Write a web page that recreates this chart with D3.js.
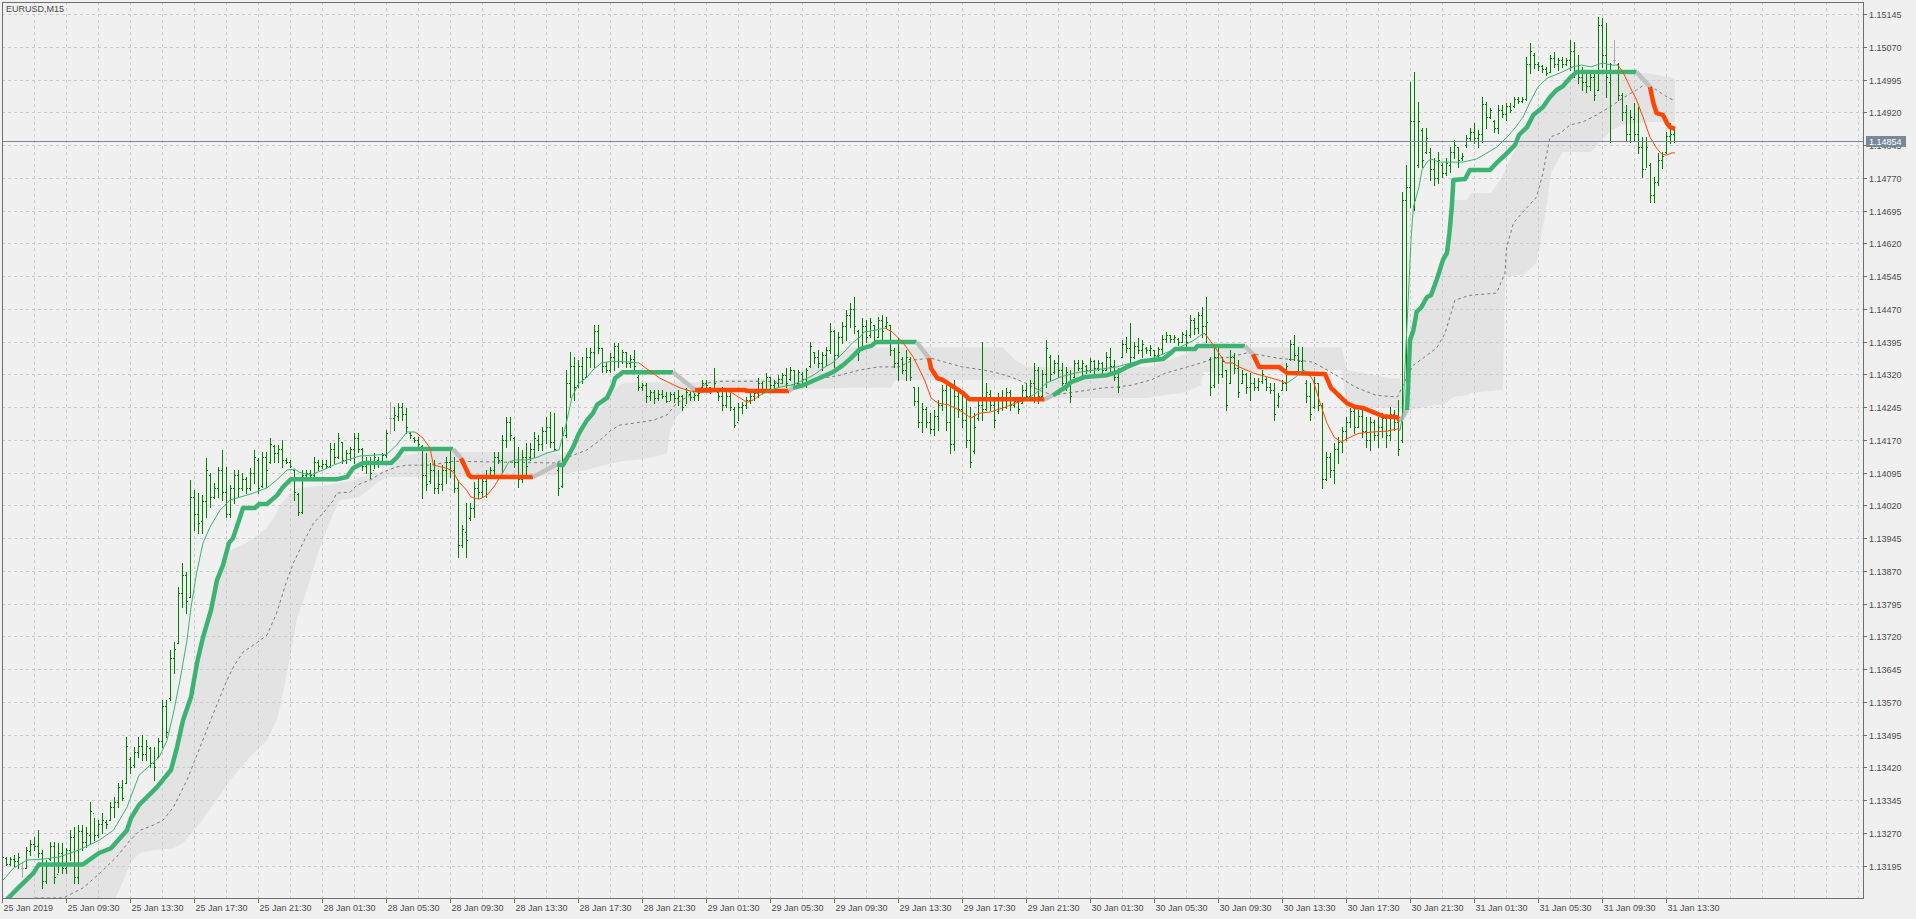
<!DOCTYPE html>
<html>
<head>
<meta charset="utf-8">
<script src="https://cdn.jsdelivr.net/npm/d3@7"></script>
<style>
body { margin: 0; background: #f0f0f0; overflow: hidden; }
svg { display: block; }
text { font-family: "Liberation Sans", Arial, sans-serif; font-size: 9px; fill: #4a4a4a; }
</style>
</head>
<body>
<svg id="chart" width="1916" height="919"></svg>
<script>
// EURUSD M15 bars, prices stored as points above 1.13000
var symbol = "EURUSD,M15";
var lastPrice = 1.14854;

var priceTicks = ["1.15145","1.15070","1.14995","1.14920","1.14845","1.14770","1.14695","1.14620","1.14545",
  "1.14470","1.14395","1.14320","1.14245","1.14170","1.14095","1.14020","1.13945","1.13870","1.13795",
  "1.13720","1.13645","1.13570","1.13495","1.13420","1.13345","1.13270","1.13195"];

var timeLabels = ["25 Jan 2019","25 Jan 09:30","25 Jan 13:30","25 Jan 17:30","25 Jan 21:30","28 Jan 01:30",
  "28 Jan 05:30","28 Jan 09:30","28 Jan 13:30","28 Jan 17:30","28 Jan 21:30","29 Jan 01:30","29 Jan 05:30",
  "29 Jan 09:30","29 Jan 13:30","29 Jan 17:30","29 Jan 21:30","30 Jan 01:30","30 Jan 05:30","30 Jan 09:30",
  "30 Jan 13:30","30 Jan 17:30","30 Jan 21:30","31 Jan 01:30","31 Jan 05:30","31 Jan 09:30","31 Jan 13:30"];

var hi = [256,215,215,219,224,203,237,253,260,276, 231,208,249,249,247,247,235,276,283,288,
  288,283,340,304,299,315,299,340,352,384, 391,489,443,466,489,494,482,466,466,487,
  574,574,689,707,833,888,867,1078,1055,1048, 1043,1128,1094,1071,1108,1147,1108,1066,1101,1101,
  1094,1085,1105,1147,1128,1142,1142,1174,1158,1158, 1169,1128,1124,1101,1048,1101,1101,1101,1130,1124,
  1124,1124,1162,1162,1185,1165,1147,1153,1185,1185, 1151,1130,1130,1140,1130,1140,1192,1256,1245,1254,
  1254,1243,1188,1176,1176,1158,1140,1117,1124,1101, 1112,1130,1153,1130,1078,975,1025,1025,1073,1082,
  1089,1101,1108,1142,1142,1181,1222,1222,1176,1153, 1147,1162,1162,1188,1181,1199,1222,1234,1231,1112,
  1199,1330,1371,1359,1353,1359,1380,1380,1433,1433, 1380,1348,1369,1392,1392,1376,1371,1364,1376,1318,
  1300,1300,1284,1284,1284,1284,1279,1279,1279,1284, 1272,1289,1279,1277,1279,1307,1307,1291,1334,1284,
  1291,1284,1277,1245,1254,1256,1268,1277,1284,1311, 1302,1323,1314,1307,1318,1323,1334,1337,1330,1330,
  1325,1334,1394,1371,1376,1371,1382,1437,1421,1417, 1440,1467,1483,1497,1421,1449,1444,1449,1433,1451,
  1456,1451,1433,1380,1403,1359,1376,1359,1291,1291, 1254,1245,1231,1238,1261,1295,1307,1300,1307,1289,
  1277,1268,1245,1231,1268,1394,1300,1284,1268,1277, 1284,1289,1284,1268,1268,1295,1300,1307,1346,1337,
  1330,1398,1364,1353,1364,1346,1337,1330,1353,1353, 1353,1341,1357,1353,1353,1348,1371,1380,1353,1334,
  1398,1405,1437,1394,1403,1398,1382,1387,1376,1382, 1410,1417,1410,1410,1403,1417,1421,1456,1449,1462,
  1474,1497,1359,1382,1380,1359,1330,1376,1369,1353, 1330,1323,1323,1311,1311,1330,1314,1300,1300,1277,
  1307,1346,1398,1410,1382,1382,1307,1300,1314,1300, 1254,1142,1140,1162,1176,1199,1222,1243,1245,1238,
  1245,1222,1222,1215,1222,1231,1222,1245,1238,1261, 1737,1799,1989,2012,1943,1884,1884,1838,1815,1829,
  1804,1815,1840,1856,1840,1827,1868,1884,1895,1879, 1955,1943,1930,1902,1937,1937,1941,1941,1955,1955,
  1955,2046,2079,2056,2035,2028,2024,2051,2058,2044, 2046,2044,2085,2081,2051,2024,2012,2017,2010,2138,
  2136,2124,2033,2085,2033,1964,1937,1925,1941,1932, 1863,1863,1804,1772,1827,1829,1875,1895,1884];

var lo = [208,196,196,194,189,169,189,219,231,215, 144,155,208,155,180,178,178,208,155,155,
  231,237,247,253,260,269,281,299,306,329, 345,384,407,421,443,437,437,421,391,443,
  466,489,574,636,705,787,773,810,963,956, 956,993,1016,1037,1039,1032,993,993,1025,1039,
  1055,1048,1055,1071,1048,1062,1062,1117,1119,1119, 1108,1117,1108,1032,998,1002,1085,1085,1085,1101,
  1105,1105,1108,1117,1128,1117,1117,1124,1117,1142, 1101,1094,1082,1105,1108,1117,1130,1185,1192,1215,
  1215,1185,1174,1165,1153,1037,1055,1071,1048,1048, 1055,1071,1085,1050,901,924,901,986,993,1037,
  1039,1039,1085,1085,1117,1096,1153,1169,1108,1062, 1073,1085,1124,1130,1147,1147,1162,1153,1147,1043,
  1062,1176,1268,1261,1291,1300,1314,1337,1337,1369, 1325,1325,1325,1330,1337,1346,1337,1337,1330,1284,
  1284,1256,1261,1254,1261,1266,1256,1261,1256,1250, 1238,1254,1261,1261,1261,1289,1284,1277,1284,1261,
  1238,1245,1238,1199,1215,1231,1243,1254,1261,1268, 1277,1284,1284,1284,1291,1300,1291,1307,1291,1291,
  1300,1291,1337,1346,1337,1330,1341,1369,1337,1359, 1392,1398,1428,1414,1353,1376,1394,1405,1387,1405,
  1394,1426,1364,1337,1307,1323,1307,1307,1250,1199, 1188,1199,1185,1181,1192,1238,1192,1140,1147,1222,
  1199,1153,1108,1140,1215,1215,1238,1238,1199,1231, 1238,1243,1238,1245,1231,1254,1261,1268,1256,1254,
  1268,1291,1307,1323,1314,1295,1284,1256,1314,1330, 1318,1323,1325,1323,1330,1323,1330,1323,1307,1279,
  1359,1371,1337,1357,1369,1359,1369,1364,1359,1357, 1369,1394,1394,1394,1387,1394,1382,1405,1412,1414,
  1405,1394,1272,1291,1300,1314,1238,1300,1323,1268, 1300,1277,1261,1284,1284,1300,1284,1277,1215,1245,
  1284,1284,1353,1353,1330,1323,1256,1215,1243,1238, 1059,1078,1085,1071,1117,1142,1169,1199,1185,1199,
  1176,1153,1147,1169,1153,1176,1153,1169,1192,1135, 1165,1268,1703,1696,1795,1795,1827,1765,1753,1758,
  1772,1776,1783,1815,1795,1811,1840,1856,1850,1840, 1852,1884,1907,1875,1872,1909,1902,1921,1932,1941,
  1943,1948,2010,2021,2017,2012,2005,2012,2024,2017, 2024,2028,2017,2000,1987,1971,1966,1971,1948,1971,
  2024,1955,1852,2033,1948,1902,1856,1852,1856,1827, 1772,1795,1714,1714,1753,1792,1827,1850,1852];

var op = [252,212,200,210,205,190,190,228,245,240, 225,160,210,240,175,225,190,230,260,170,
  275,250,265,315,265,290,295,300,330,340, 375,385,440,425,455,470,450,465,430,445,
  480,560,580,670,705,820,860,810,1040,1000, 985,1030,1090,1040,1060,1100,1050,1000,1060,1090,
  1060,1080,1060,1095,1125,1065,1130,1120,1155,1140, 1150,1125,1120,1100,1045,1005,1090,1095,1090,1120,
  1110,1115,1110,1150,1130,1165,1125,1140,1150,1175, 1150,1110,1120,1100,1125,1115,1135,1220,1220,1225,
  1245,1230,1185,1175,1170,1155,1090,1075,1100,1060, 1070,1100,1120,1100,1060,930,960,990,1015,1060,
  1050,1075,1090,1100,1130,1125,1170,1210,1175,1120, 1080,1130,1130,1150,1170,1160,1190,1200,1165,1100,
  1065,1180,1300,1340,1295,1340,1315,1360,1370,1420, 1380,1340,1330,1360,1385,1350,1370,1345,1355,1315,
  1290,1295,1270,1280,1265,1275,1270,1260,1275,1265, 1270,1250,1275,1268,1272,1290,1300,1290,1285,1280,
  1270,1250,1270,1240,1210,1245,1250,1262,1270,1278, 1300,1285,1315,1295,1300,1310,1318,1310,1330,1300,
  1320,1310,1340,1370,1360,1345,1365,1375,1420,1365, 1405,1430,1455,1470,1420,1380,1430,1410,1433,1405,
  1445,1430,1433,1375,1345,1355,1330,1355,1290,1260, 1210,1240,1210,1195,1225,1250,1285,1210,1160,1270,
  1240,1215,1170,1145,1220,1250,1240,1275,1250,1235, 1265,1245,1280,1250,1260,1255,1285,1270,1300,1330,
  1270,1320,1360,1325,1345,1330,1300,1320,1315,1345, 1335,1340,1330,1350,1335,1345,1330,1360,1340,1315,
  1360,1390,1380,1360,1385,1375,1380,1375,1375,1365, 1378,1400,1410,1400,1400,1395,1410,1410,1445,1425,
  1455,1430,1355,1295,1360,1320,1330,1300,1360,1335, 1300,1320,1290,1300,1290,1305,1310,1290,1285,1250,
  1285,1300,1355,1390,1365,1350,1300,1270,1245,1300, 1250,1080,1130,1100,1150,1165,1190,1210,1235,1200,
  1225,1190,1170,1210,1180,1200,1220,1180,1230,1210, 1170,1720,1750,1900,1800,1880,1830,1830,1790,1770,
  1800,1780,1800,1830,1840,1815,1845,1860,1875,1860, 1870,1940,1910,1900,1885,1925,1915,1935,1935,1950,
  1945,1950,2030,2050,2030,2025,2020,2012,2045,2030, 2040,2030,2040,2060,2010,2000,1990,1980,2000,1970,
  2120,2050,1990,2040,2030,1960,1920,1870,1905,1870, 1840,1790,1800,1730,1760,1810,1830,1865,1870];

var cl = [214,200,210,205,215,190,230,245,240,225, 160,195,240,170,225,190,230,260,170,275,
  250,270,320,265,290,300,290,330,340,375, 350,470,420,455,470,450,470,430,420,480,
  560,500,670,690,820,860,800,1040,1000,980, 1030,1100,1040,1060,1100,1050,1000,1060,1090,1060,
  1080,1060,1095,1130,1060,1130,1100,1160,1140,1150, 1125,1120,1110,1050,1005,1090,1095,1090,1120,1110,
  1115,1110,1150,1130,1175,1125,1140,1150,1175,1150, 1110,1120,1095,1130,1115,1135,1185,1220,1228,1245,
  1230,1200,1180,1170,1160,1090,1070,1100,1060,1070, 1100,1120,1100,1060,930,965,940,1015,1060,1050,
  1075,1090,1100,1130,1125,1170,1210,1180,1120,1080, 1130,1110,1150,1175,1160,1190,1200,1165,1150,1060,
  1180,1300,1340,1290,1340,1310,1360,1370,1420,1380, 1340,1330,1360,1385,1350,1370,1345,1355,1340,1290,
  1295,1270,1280,1265,1275,1270,1260,1275,1265,1270, 1245,1280,1268,1272,1278,1300,1295,1285,1300,1270,
  1250,1270,1245,1205,1245,1250,1262,1270,1278,1300, 1285,1315,1295,1300,1310,1318,1300,1330,1300,1325,
  1310,1330,1385,1360,1345,1365,1375,1420,1365,1405, 1430,1455,1470,1430,1370,1430,1405,1440,1395,1445,
  1420,1440,1375,1345,1370,1330,1360,1315,1260,1210, 1240,1210,1195,1225,1250,1285,1210,1160,1270,1240,
  1215,1170,1120,1200,1250,1240,1280,1250,1215,1265, 1245,1280,1250,1260,1240,1285,1270,1300,1330,1270,
  1320,1380,1320,1345,1330,1300,1325,1270,1345,1335, 1345,1330,1350,1335,1345,1330,1360,1340,1315,1290,
  1390,1380,1360,1385,1375,1390,1375,1380,1365,1378, 1400,1410,1400,1405,1395,1412,1395,1445,1425,1455,
  1430,1440,1290,1360,1320,1350,1250,1360,1335,1280, 1320,1290,1300,1290,1305,1320,1290,1285,1230,1270,
  1300,1340,1390,1365,1350,1330,1270,1230,1300,1250, 1080,1130,1100,1150,1165,1190,1210,1235,1200,1225,
  1190,1170,1210,1180,1200,1220,1180,1230,1210,1150, 1720,1750,1900,1720,1900,1810,1860,1790,1770,1810,
  1780,1805,1830,1845,1810,1820,1860,1875,1860,1870, 1940,1910,1925,1885,1925,1915,1935,1925,1950,1945,
  1950,2030,2060,2030,2025,2020,2010,2045,2030,2040, 2030,2040,2060,2010,2000,1990,1980,2000,1960,2120,
  2050,2000,2030,2040,1960,1920,1870,1910,1870,1840, 1790,1840,1730,1760,1810,1820,1865,1870,1854];

// trailing step line: bar position, level (points)
var stopBar = [0,1.3,4,7.6,9,20,24,27,31,32,34,37,38.5,42,43.5,45,47,48.5,50,52,53.5,55,56.5,57.5,59,60,63,64,66,68.5,70,72,
  83.5,86,87.5,90,97,98.5,100,112.5,114.5,116.5,117,132.5,138.5,140,142.5,144,146,147.5,148.5,151,152.5,153,155,167.5,
  173,185.5,186,196.5,197.5,200,204,207.5,210,212,214,215,217,218.3,228.4,231.5,232,233.6,235,238,240,241.6,260.4,
  262.5,265.7,267,270.5,276,278.5,281,284.6,290,292,293,298,298.6,310.5,312.5,314,319,321,330.5,332,334.6,336,338,340,
  342.4,345,348.5,349.3,351,351.3,351.75,352.6,353.4,354.6,356,357,358.4,360,361,361.6,362.2,362.6,365.5,366.75,371.75,
  373.4,375.5,378,379,381,382.6,385,386.75,388.4,390,392,393.4,408.4,411.75,412.6,413.4,415,416,416.75,418];
var stopVal = [109,121,146,178,198,198,224,235,276,304,334,361,375,414,466,528,581,659,718,780,849,883,934,945,986,1014,1014,1023,1023,1043,1062,1080,
  1080,1085,1105,1117,1117,1130,1149,1149,1128,1089,1085,1085,1114,1112,1153,1185,1215,1231,1250,1266,1295,1311,1325,1325,
  1284,1284,1282,1282,1289,1295,1311,1325,1341,1357,1376,1380,1385,1394,1394,1357,1334,1311,1307,1289,1277,1263,1263,
  1272,1291,1302,1314,1318,1325,1337,1350,1355,1369,1378,1378,1385,1385,1366,1337,1337,1323,1321,1289,1266,1254,1245,1243,
  1234,1224,1222,1213,1238,1300,1398,1421,1463,1474,1497,1501,1536,1582,1598,1643,1703,1765,1767,1788,1788,
  1804,1822,1845,1868,1886,1914,1932,1955,1971,1980,2001,2012,2012,1978,1941,1918,1914,1895,1886,1882];
// colour runs along the points: u = rising (green), d = falling (red), n = switching (grey)
var stopRuns = [["u",40],["n",1],["d",3],["n",1],["u",11],["n",1],["d",3],["n",1],["u",10],["n",1],["d",7],
  ["n",1],["u",13],["n",1],["d",13],["n",1],["u",29],["n",1],["d",6]];

// smoothed average: bar position, level
var maBar = [0,2.6,6,10,14,19,24,27.6,31,34,37.6,39,41,42.6,44.25,46,47,48.4,50,51.75,54.25,56.75,59.25,62.6,66,68.4,71,73,74,76.75,80,82.6,86,
  89.25,92.6,96,98.4,101,103,105,106.75,107.6,111,112.6,114,115.9,117,119,121,123,125,126.4,128,131,133.5,136,139,140.6,142.25,144,145.75,
  147.5,149.6,152.5,156.75,159,160.75,164.25,166.75,169.25,171.75,174.25,177,179.25,182,184.25,186,187.5,189.25,192,194.25,197,200.25,
  202.6,205,207.6,210,212.6,214.25,215.25,218,220.5,222.3,224.9,227.6,230.4,232,233.75,236.4,238,239.8,242,244,246.9,250.6,253,255.6,
  258.25,260.9,264.4,268,273,278.4,282,286.3,290.7,294.2,297.7,299.5,300.4,303,305.6,307.4,309,312.6,316.1,318.8,321,323.2,325,326,327.5,
  329.3,331,332.8,334.6,336.3,339,342.5,346,348.6,349.25,350,350.5,351.3,352,352.6,354,354.75,356,357,359,361.75,365,368.4,371,373.4,376,
  378,380,382,383.75,386,389.75,392.5,394.6,397,400,402,403.75,405.1,406.75,408.4,410,411.75,413.4,414.7,415.9,417.2,418];
var maVal = [162,189,208,210,215,231,253,276,329,402,432,443,482,544,620,711,787,865,934,970,1009,1032,1039,1048,1060,1078,1101,1103,1096,1089,1101,1112,1124,
  1133,1135,1137,1158,1188,1188,1174,1151,1112,1105,1096,1073,1055,1039,1034,1043,1066,1096,1119,1124,1124,1130,1140,1147,1199,1268,1300,1311,
  1330,1346,1350,1348,1346,1334,1311,1300,1289,1282,1279,1279,1284,1279,1266,1256,1261,1272,1284,1291,1295,1307,
  1318,1334,1348,1369,1394,1405,1417,1421,1426,1417,1394,1359,1307,1266,1254,1250,1243,1234,1220,1231,1234,1245,1254,1261,
  1277,1300,1314,1323,1330,1337,1346,1353,1369,1382,1398,1410,1414,1382,1346,1346,1337,1323,1314,1307,1300,1314,1330,1325,1307,
  1254,1208,1176,1165,1174,1185,1188,1190,1195,1192,1231,1337,1490,1627,1703,1749,1788,1806,1813,1806,1806,1806,1813,1827,1840,1863,
  1884,1909,1948,1978,1998,2012,2024,2028,2024,2033,2028,2028,2010,1978,1948,1909,1863,1838,1824,1822,1827,1827];
var maRuns = [["u",39],["d",12],["u",15],["d",13],["u",13],["d",15],["u",13],["d",8],["u",3],["d",11],["u",28],["d",10]];

// slow average (dashed)
var slowBar = [8,15,20,24.25,28.4,31.75,34.25,37.6,40,42.6,46,49.25,52.6,56,57.6,60,63.4,66,68.4,71,72.6,75,77.6,80,82.6,83.4,86.75,88.4,91.75,95,98.4,101,106.75,
  112.6,138,142.6,146,149.25,152,154.25,157.6,162.6,166,168.4,171,173.5,176,179.25,192.6,196,201,205,209.25,214.25,218.8,224,227.6,232,235.4,
  239.8,245,248.6,252,255.6,258.9,262.6,266,271.4,275,278.4,282,287,290.7,295,299.5,303,306.5,311,314.4,318.8,323.2,327.5,331,334.6,338,343.3,
  348.6,351,352.6,355,358.4,360.5,363,366.75,373.4,375.5,375.9,377.6,380,383.4,385,386.75,389.25,391.75,395,398.4,401.75,405,408.4,410.9,413.4,416,417.6];
var slowVal = [121,121,144,178,215,253,276,288,299,329,391,466,544,620,650,684,705,723,773,849,888,934,979,1002,1032,1048,1050,1066,1078,1096,1108,1112,1112,
  1121,1117,1135,1147,1169,1192,1204,1208,1215,1227,1254,1268,1284,1300,1304,1304,1295,1300,1311,1318,1330,1337,1337,1353,1357,1348,
  1337,1330,1323,1314,1300,1284,1272,1277,1284,1289,1291,1295,1307,1323,1334,1346,1357,1359,1369,1364,1357,1353,1348,1330,1311,1291,1272,
  1268,1314,1341,1357,1380,1414,1490,1501,1506,1552,1611,1666,1692,1726,1781,1863,1872,1891,1898,1914,1932,1953,1971,1987,1971,1955,1948];

// shaded envelope: bar position, upper edge, lower edge
var bandBar = [0,2,4,8,10,20,24,28,30.5,31.75,34.25,38,42.6,45,49.25,53.4,56.75,60,61.75,66,68.4,69.25,71,73.4,76.75,79.25,82.6,84.25,88,89.25,
  93.4,96,98,100,106.75,132.6,137.6,140,142,146,150,153.4,155,158,162.6,166,166.75,168.4,171,173.5,176,196,211.75,222,223,250,253,256,
  258.9,286.3,290,295,299.5,300,334.6,336,346.75,349.25,350,351,352,354,358,360,362.6,366,367,372,375,375.5,378,380,383.4,386,387,390,393,
  397,402,405,410.9,418];
var bandTop = [118,127,141,180,194,194,217,240,267,295,327,368,437,521,677,837,918,929,940,968,1002,1021,1039,1060,1062,1064,1069,1071,1078,1085,
  1094,1101,1117,1135,1142,1142,1140,1135,1147,1204,1250,1289,1300,1302,1302,1302,1302,1302,1302,1302,1307,1311,1382,1382,1382,1382,1353,1337,
  1337,1337,1348,1364,1382,1382,1382,1330,1311,1311,1261,1284,1410,1472,1524,1577,1719,1719,1735,1735,1776,1788,1834,1868,1914,1955,1960,1982,2005,
  2005,2005,2005,2010,1998];
var bandBot = [118,118,118,118,118,118,118,118,169,201,224,231,235,247,293,345,391,425,444,482,528,558,636,757,849,924,1002,1032,1037,1039,
  1071,1085,1085,1085,1085,1085,1089,1094,1096,1101,1112,1119,1121,1124,1130,1140,1192,1222,1245,1268,1284,1284,1289,1289,1307,1307,1307,1307,
  1266,1266,1272,1277,1295,1325,1330,1243,1243,1243,1238,1238,1238,1243,1250,1250,1268,1272,1277,1282,1284,1543,1547,1547,1575,1712,1781,1829,1829,
  1829,1879,1891,1898,1898];

function expandRuns(runs) {
  var s = [];
  runs.forEach(function(r) { for (var k = 0; k < r[1]; k++) s.push(r[0]); });
  return s;
}
var stopState = expandRuns(stopRuns);
var maState = expandRuns(maRuns);
if (stopState.length !== stopBar.length) console.log("stop states", stopState.length, stopBar.length);
if (maState.length !== maBar.length) console.log("ma states", maState.length, maBar.length);

var W = 1916, H = 919;
var plotL = 2, plotR = 1863, plotT = 2, plotB = 898;
var price = function(v) { return 1.13 + v / 100000; };

var x = d3.scaleLinear().domain([0, 418]).range([3, 1675]);
var y = d3.scaleLinear().domain([1.13195, 1.15145]).range([865.7, 14]);

var svg = d3.select("#chart");
svg.append("rect").attr("width", W).attr("height", H).attr("fill", "#f0f0f0");

svg.append("clipPath").attr("id", "plotclip")
  .append("rect").attr("x", plotL).attr("y", plotT).attr("width", plotR - plotL).attr("height", plotB - plotT);

var plot = svg.append("g").attr("clip-path", "url(#plotclip)");

// envelope
var band = bandBar.map(function(b, k) { return [b, bandTop[k], bandBot[k]]; });
plot.append("path")
  .attr("d", d3.area().x(function(d) { return x(d[0]); })
    .y0(function(d) { return y(price(d[2])); })
    .y1(function(d) { return y(price(d[1])); })(band))
  .attr("fill", "#e3e3e3");

// grid
var grid = plot.append("g").attr("stroke", "#cbcbcb").attr("stroke-dasharray", "3,3").attr("shape-rendering", "crispEdges");
priceTicks.forEach(function(t) {
  var yy = Math.round(y(+t)) + 0.5;
  grid.append("line").attr("x1", plotL).attr("x2", plotR).attr("y1", yy).attr("y2", yy);
});
for (var g = 8; x(g) < plotR - 2; g += 8) {
  var xx = Math.round(x(g)) - 0.5;
  grid.append("line").attr("x1", xx).attr("x2", xx).attr("y1", plotT).attr("y2", plotB);
}

// slow average
plot.append("path")
  .attr("d", d3.line().x(function(d) { return x(d[0]); }).y(function(d) { return y(price(d[1])); })
    (slowBar.map(function(b, k) { return [b, slowVal[k]]; })))
  .attr("fill", "none").attr("stroke", "#7a7a7a").attr("stroke-width", 1).attr("stroke-dasharray", "3,3");

var colours = { u: "#3cb371", d: "#ff4500", n: "#c0c0c0" };

function pieces(bars, vals, states) {
  var out = [], cur = null;
  for (var k = 1; k < bars.length; k++) {
    var s = states[k];
    if (!cur || cur.s !== s) { cur = { s: s, pts: [[bars[k - 1], vals[k - 1]]] }; out.push(cur); }
    cur.pts.push([bars[k], vals[k]]);
  }
  return out;
}
var line = d3.line().x(function(d) { return x(d[0]); }).y(function(d) { return y(price(d[1])); });

// bars
var bars = plot.append("g").attr("shape-rendering", "crispEdges");
hi.forEach(function(h, i) {
  var cx = Math.round(x(i)) - 1;
  var col = op[i] === cl[i] ? "#a9a9a9" : "#008000";
  var yh = Math.round(y(price(h))), yl = Math.round(y(price(lo[i])));
  bars.append("rect").attr("x", cx).attr("y", yh).attr("width", 1).attr("height", Math.max(1, yl - yh + 1)).attr("fill", col);
  bars.append("rect").attr("x", cx - 1).attr("y", Math.round(y(price(op[i])))).attr("width", 1).attr("height", 1).attr("fill", col);
  bars.append("rect").attr("x", cx + 1).attr("y", Math.round(y(price(cl[i])))).attr("width", 1).attr("height", 1).attr("fill", col);
});

// thick step line
pieces(stopBar, stopVal, stopState).forEach(function(p) {
  plot.append("path").attr("d", line(p.pts)).attr("fill", "none")
    .attr("stroke", colours[p.s]).attr("stroke-width", 4.5).attr("stroke-linejoin", "round");
});

// thin average
pieces(maBar, maVal, maState).forEach(function(p) {
  plot.append("path").attr("d", line(p.pts)).attr("fill", "none")
    .attr("stroke", colours[p.s]).attr("stroke-width", 1);
});

// current price line
var py = Math.round(y(lastPrice)) + 0.5;
plot.append("line").attr("x1", plotL).attr("x2", plotR).attr("y1", py).attr("y2", py)
  .attr("stroke", "#778899").attr("stroke-width", 1);

// frame
svg.append("rect").attr("x", plotL + 0.5).attr("y", plotT + 0.5).attr("width", plotR - plotL).attr("height", plotB - plotT)
  .attr("fill", "none").attr("stroke", "#6e6e6e").attr("shape-rendering", "crispEdges");

// price axis
var axisY = svg.append("g");
priceTicks.forEach(function(t) {
  var yy = Math.round(y(+t)) + 0.5;
  axisY.append("line").attr("x1", plotR).attr("x2", plotR + 4).attr("y1", yy).attr("y2", yy)
    .attr("stroke", "#6e6e6e").attr("shape-rendering", "crispEdges");
  axisY.append("text").attr("x", plotR + 6).attr("y", yy + 3.5).text(t);
});
svg.append("rect").attr("x", plotR + 3).attr("y", py - 5.5).attr("width", 40).attr("height", 11).attr("fill", "#778899");
svg.append("text").attr("x", plotR + 6).attr("y", py + 3.5).style("fill", "#ffffff").text(lastPrice.toFixed(5));

// time axis
var axisX = svg.append("g");
timeLabels.forEach(function(t, k) {
  var xx = Math.round(x(k * 16)) - 0.5;
  axisX.append("line").attr("x1", xx).attr("x2", xx).attr("y1", plotB).attr("y2", plotB + 5)
    .attr("stroke", "#6e6e6e").attr("shape-rendering", "crispEdges");
  axisX.append("text").attr("x", xx + 1).attr("y", 911).text(t);
});

svg.append("text").attr("x", 6).attr("y", 12).text(symbol);
</script>
</body>
</html>
